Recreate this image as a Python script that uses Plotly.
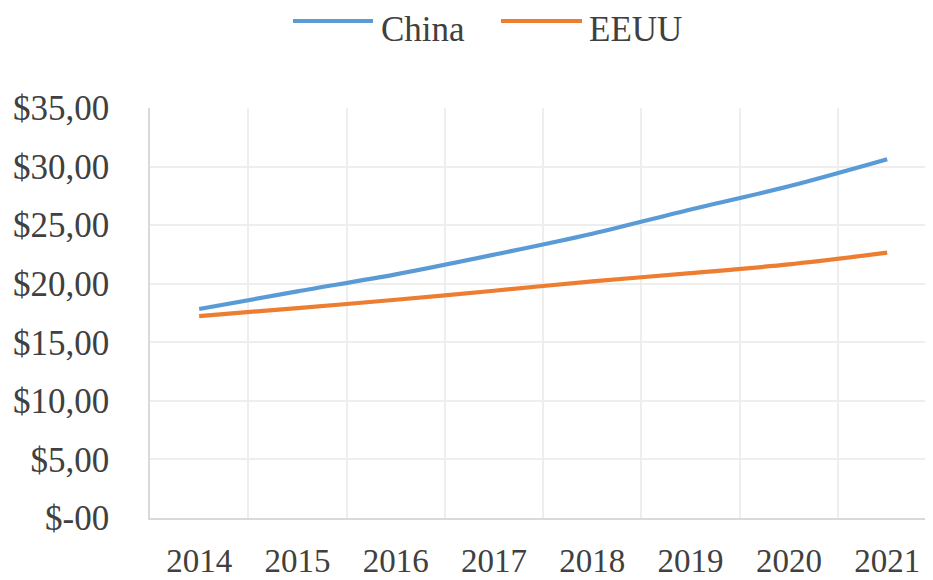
import plotly.graph_objects as go

years = ["2014", "2015", "2016", "2017", "2018", "2019", "2020", "2021"]
china = [17.84, 19.35, 20.8, 22.48, 24.27, 26.33, 28.32, 30.63]
eeuu = [17.24, 17.92, 18.63, 19.4, 20.2, 20.9, 21.65, 22.65]
y_ticks = [0, 5, 10, 15, 20, 25, 30, 35]
y_tick_labels = ["$-00", "$5,00", "$10,00", "$15,00", "$20,00", "$25,00", "$30,00", "$35,00"]
series_names = ["China", "EEUU"]
colors = ["#5B9BD5", "#ED7D31"]

font_family = "Liberation Serif, Times New Roman, serif"
text_color = "#404040"

# the page has an 8px body margin, so the figure is offset by 8px
OFF = 8
W, H = 933 - OFF, 580 - OFF
PL, PT, PB = 150 - OFF, 108 - OFF, 518 - OFF  # plot area edges in figure pixels

fig = go.Figure()
for name, vals, col in zip(series_names, [china, eeuu], colors):
    fig.add_trace(go.Scatter(x=years, y=vals, name=name, mode="lines",
                             line=dict(color=col, width=4.2, shape="spline", smoothing=0.9),
                             showlegend=False))

# custom legend (line sample + label), placed in paper coordinates
legend_items = [(293, 373, 379), (501, 582, 587)]
for (x0, x1, tx), name, col in zip(legend_items, series_names, colors):
    ly = (PB - (21 - OFF)) / (PB - PT)
    fig.add_shape(type="line", xref="paper", yref="paper",
                  x0=(x0 - OFF - PL) / (W - PL), x1=(x1 - OFF - PL) / (W - PL),
                  y0=ly, y1=ly, line=dict(color=col, width=4))
    fig.add_annotation(xref="paper", yref="paper", x=(tx - OFF - PL) / (W - PL),
                       y=(PB - (29 - OFF)) / (PB - PT), xanchor="left", yanchor="middle",
                       text=name, showarrow=False,
                       font=dict(family=font_family, size=35, color=text_color))

fig.update_layout(
    width=W, height=H,
    margin=dict(l=PL, r=0, t=PT, b=H - PB, autoexpand=False),
    paper_bgcolor="white", plot_bgcolor="white",
    font=dict(family=font_family, size=35, color=text_color),
)
fig.update_xaxes(
    type="category", range=[-0.5, 7.466], tickson="boundaries",
    showgrid=True, gridcolor="#eeeeee", gridwidth=1.5,
    showline=True, linecolor="#d9d9d9", linewidth=1.5,
    ticks="", ticklabelstandoff=13, automargin=False,
    tickfont=dict(family=font_family, size=33, color=text_color),
)
fig.update_yaxes(
    range=[0, 35], tickvals=y_ticks, ticktext=y_tick_labels,
    showgrid=True, gridcolor="#eeeeee", gridwidth=1.5,
    showline=True, linecolor="#d9d9d9", linewidth=1.5,
    zeroline=False, ticks="", ticklabelstandoff=32, automargin=False,
    tickfont=dict(family=font_family, size=35, color=text_color),
)

fig.write_html("out.html")
